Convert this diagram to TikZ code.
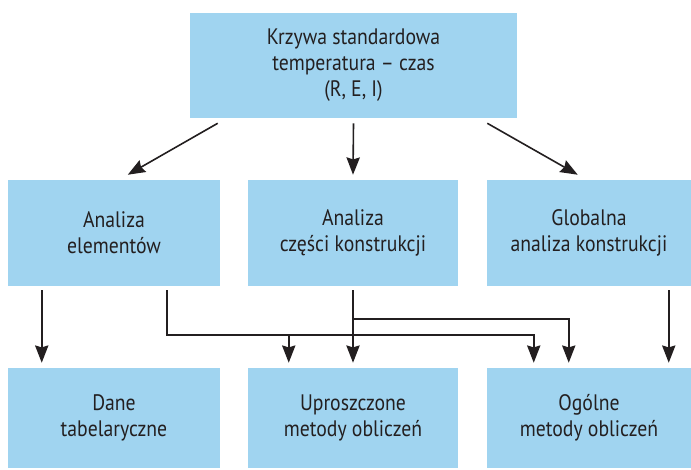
\documentclass[tikz,border=0pt]{standalone}
\usepackage{fontspec}
\setmainfont{PT Sans}[FakeStretch=0.88]
\usepackage{tikz}
\usetikzlibrary{arrows.meta}
\usepackage{xcolor}
\definecolor{boxblue}{RGB}{160,212,240}
\definecolor{inkdark}{RGB}{35,31,32}

\begin{document}
\begin{tikzpicture}[
    x=0.75pt, y=-0.75pt,
    box/.style={rectangle, fill=boxblue, inner sep=0pt, align=center, text=inkdark,
        font=\fontsize{16.8pt}{19.5pt}\selectfont},
    arrow/.style={-{Stealth[length=13pt, width=10pt, inset=1.5pt]}, line width=1.2pt, draw=inkdark}
]
\useasboundingbox (0,0) rectangle (691,469);

% Nodes
\node[box, minimum width=245.25pt, minimum height=78.75pt] (krzywa) at (353.5,65.5)
    {Krzywa standardowa\\temperatura -- czas\\(R, E, I)};

\node[box, minimum width=159pt, minimum height=79.5pt] (elem) at (114,233) {Analiza\\elementów};
\node[box, minimum width=157.5pt, minimum height=79.5pt] (czesc) at (353,233) {Analiza\\części konstrukcji};
\node[box, minimum width=153pt, minimum height=79.5pt] (glob) at (589,233) {Globalna\\analiza konstrukcji};

\node[box, minimum width=159pt, minimum height=75pt] (dane) at (114,418) {Dane\\tabelaryczne};
\node[box, minimum width=157.5pt, minimum height=75pt] (upr) at (353,418) {Uproszczone\\metody obliczeń};
\node[box, minimum width=153pt, minimum height=75pt] (ogol) at (589,418) {Ogólne\\metody obliczeń};

% Arrows
\draw[arrow] ([shift={(28,5)}]krzywa.south west) -- ([shift={(120,-5)}]elem.north west);
\draw[arrow] ([shift={(0,5)}]krzywa.south) -- ([shift={(0,-5)}]czesc.north);
\draw[arrow] ([shift={(-30,5)}]krzywa.south east) -- ([shift={(91,-5)}]glob.north west);

\draw[arrow] ([shift={(34,4)}]elem.south west) -- ([shift={(34,-5)}]dane.north west);
\draw[arrow] ([shift={(159,4)}]elem.south west) -- ++(0,45) coordinate (elemjoin)
    -| ([shift={(47,-5)}]ogol.north west);
\draw[arrow] (elemjoin -| upr.north west) ++(41,0) -- ([shift={(41,-5)}]upr.north west);

\draw[arrow] ([shift={(0,4)}]czesc.south) -- ([shift={(0,-5)}]upr.north);
\draw[arrow] ([shift={(0,33)}]czesc.south) -| ([shift={(82,-5)}]ogol.north west);

\draw[arrow] ([shift={(182,4)}]glob.south west) -- ([shift={(182,-5)}]ogol.north west);

\end{tikzpicture}
\end{document}
